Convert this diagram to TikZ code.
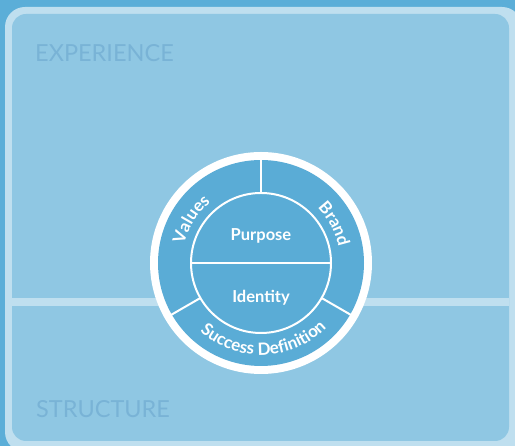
\documentclass[tikz,border=0pt]{standalone}
\usepackage{fontspec}
\setmainfont{Lato}
\newfontfamily\corefont{Lato}[UprightFont={* Bold}]
\usetikzlibrary{decorations.text,calc}
\definecolor{bgdark}{HTML}{5BAED8}
\definecolor{panelborder}{HTML}{BFDFEF}
\definecolor{panelfill}{HTML}{8FC7E3}
\definecolor{ringblue}{HTML}{5AACD6}
\definecolor{labeltext}{HTML}{79B3D6}
\tikzset{
  zonelabel/.style={anchor=base west, inner sep=0pt, text=labeltext, font=\fontsize{23.5}{26}\selectfont},
  corelabel/.style={anchor=base, inner sep=0pt, text=white, font=\corefont\fontsize{16.5}{19}\selectfont},
  divider/.style={draw=white, line width=2pt},
  arclabel/.style={decorate, decoration={text along path, text align=center, text color=white}}
}
\begin{document}
\begin{tikzpicture}[x=1pt,y=1pt]
\useasboundingbox (0,0) rectangle (515,446);
\fill[bgdark] (0,0) rectangle (515,446);
\fill[panelborder, rounded corners=20pt] (5,439) rectangle (522,-6);
\fill[panelfill, rounded corners=14pt] (12,432) rectangle (509,5);
\fill[panelborder] (12,140) rectangle (509,148);
\node[zonelabel] (exp) at (35,384) {EXPERIENCE};
\node[zonelabel] (str) at (36,28) {STRUCTURE};
\coordinate (c) at (261,183);
\fill[white] (c) circle[radius=111];
\fill[ringblue] (c) circle[radius=103];
\draw[divider] (c) circle[radius=70];
\draw[divider] ($(c)+(180:70)$) -- ($(c)+(0:70)$);
\foreach \a in {90,210,330} {
  \draw[divider] ($(c)+(\a:70)$) -- ($(c)+(\a:104)$);
}
\node[corelabel] (purpose) at (261,205) {Purpose};
\node[corelabel] (identity) at (261,143) {Identity};
\path[arclabel, decoration={text={|\corefont\fontsize{17}{20}\selectfont|Values}}]
  ($(c)+(200:79)$) arc[start angle=200, end angle=96, radius=79];
\path[arclabel, decoration={text={|\corefont\fontsize{17}{20}\selectfont|Brand}}]
  ($(c)+(80:79)$) arc[start angle=80, end angle=-24, radius=79];
\path[arclabel, decoration={text={|\corefont\fontsize{17}{20}\selectfont|Success Definition}}]
  ($(c)+(205:92)$) arc[start angle=205, end angle=339, radius=92];
\end{tikzpicture}
\end{document}
